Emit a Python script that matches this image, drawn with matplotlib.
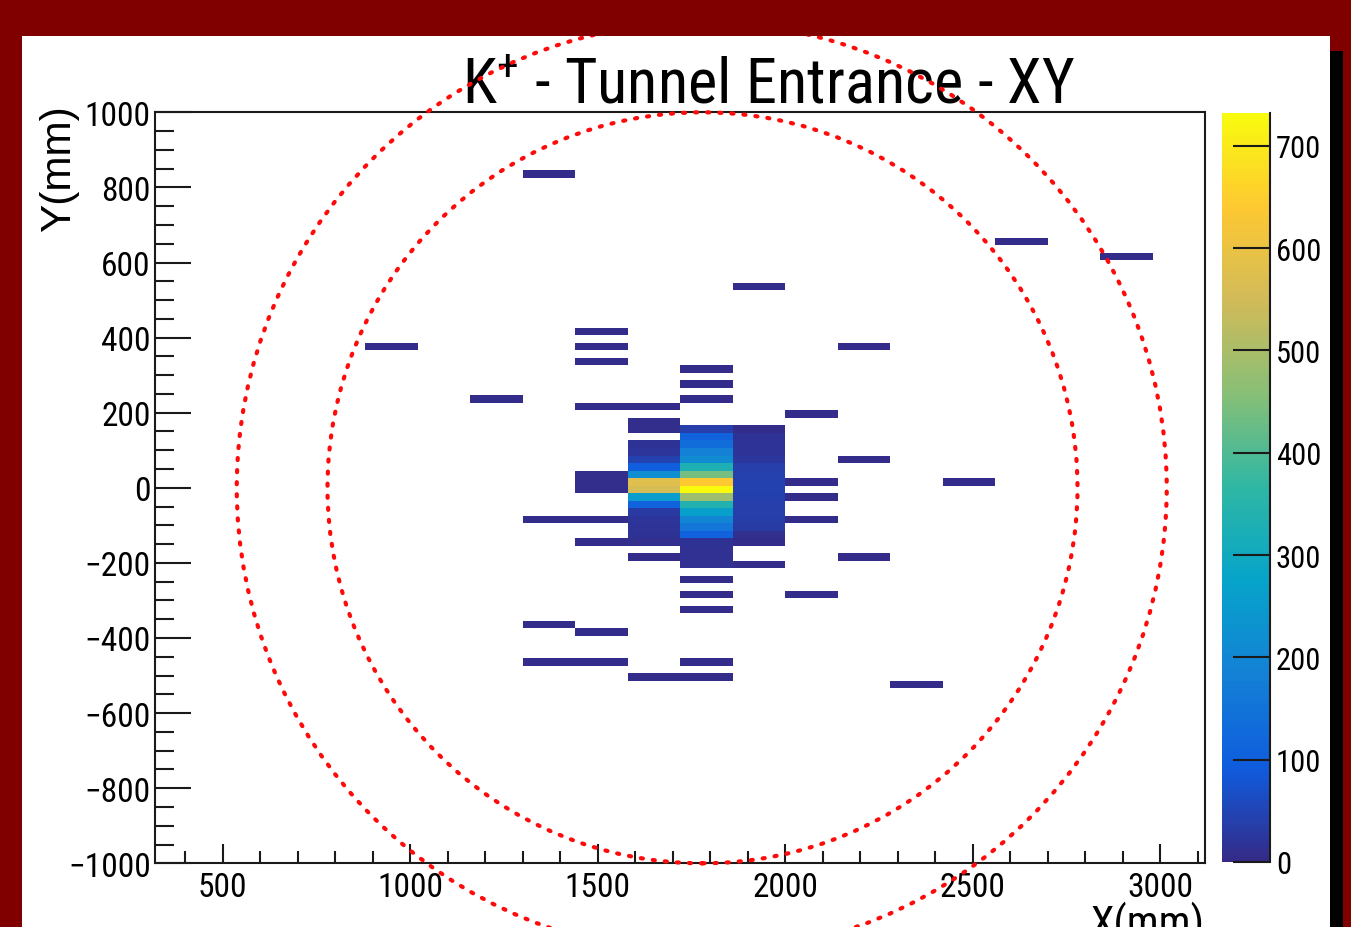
import numpy as np
import matplotlib
matplotlib.use("Agg")
import matplotlib.pyplot as plt
from matplotlib import font_manager
from matplotlib.colors import LinearSegmentedColormap
from matplotlib.patches import Rectangle, Circle
from matplotlib.ticker import MultipleLocator, FixedLocator
from matplotlib.lines import Line2D

# ------------------------------------------------------------------ data
X_EDGES = np.arange(320, 3121, 140)          # 20 x-bins of 140 mm
Y_EDGES = np.arange(-994, 1007, 20)          # 100 y-bins of 20 mm

# dense core of the beam spot (bin centres)
core_y = [176, 156, 136, 116, 96, 76, 56, 36, 16, -4, -24, -44, -64, -84, -104, -124, -144]
core_x = [1650, 1790, 1930]
counts_1650 = [8, 8, 0, 15, 22, 45, 100, 220, 575, 560, 255, 110, 30, 22, 18, 15, 10]
counts_1790 = [0, 40, 110, 135, 185, 210, 330, 440, 640, 730, 485, 340, 265, 200, 160, 110, 15]
counts_1930 = [0, 5, 15, 18, 20, 25, 38, 42, 45, 45, 42, 40, 38, 35, 32, 10, 5]

# isolated low-count cells (bin centres)
sparse_x = [1370, 2630, 2910, 1930, 1510, 1510, 1510, 950, 2210,
            1790, 1790, 1790, 1230, 1510, 1650, 2070, 2210, 2490,
            1510, 1510, 1510, 2070, 2070, 1370, 1510, 2070, 1510,
            1650, 2210, 1930, 1790, 1790, 1790, 1790, 1790, 1790,
            2070, 1370, 1510, 1370, 1510, 1790, 1650, 1790, 2350]
sparse_y = [836, 656, 616, 536, 416, 376, 336, 376, 376,
            316, 276, 236, 236, 216, 216, 196, 76, 16,
            36, 16, -4, 16, -24, -84, -84, -84, -144,
            -184, -184, -204, -164, -184, -204, -244, -284, -324,
            -284, -364, -384, -464, -464, -464, -504, -504, -524]
sparse_n = [3, 3, 3, 3, 3, 3, 3, 3, 3,
            3, 3, 3, 3, 3, 3, 3, 3, 3,
            8, 8, 8, 3, 3, 3, 3, 3, 3,
            3, 3, 3, 12, 12, 12, 3, 3, 3,
            3, 3, 3, 3, 3, 3, 3, 3, 3]

Z_MAX = 732
CBAR_TICKS = [0, 100, 200, 300, 400, 500, 600, 700]
X_TICKS = [500, 1000, 1500, 2000, 2500, 3000]
Y_TICKS = [-1000, -800, -600, -400, -200, 0, 200, 400, 600, 800, 1000]

# detector outlines (centre x, centre y, radius) in mm
circle_cx = [1780, 1778]
circle_cy = [0, 0]
circle_r = [1000, 1240]

# ------------------------------------------------------------------ fonts
avail = {f.name for f in font_manager.fontManager.ttflist}
narrow = next((f for f in ['Liberation Sans Narrow', 'Arial Narrow', 'Roboto Condensed',
                           'Liberation Sans'] if f in avail), 'DejaVu Sans')
regular = 'Liberation Sans' if 'Liberation Sans' in avail else 'DejaVu Sans'
plt.rcParams['font.family'] = [narrow, 'DejaVu Sans']
plt.rcParams['mathtext.fontset'] = 'custom'
plt.rcParams['mathtext.rm'] = narrow
plt.rcParams['mathtext.it'] = narrow
plt.rcParams['mathtext.bf'] = narrow

# ROOT kBird palette
stops = np.linspace(0, 1, 9)
red = [0.2082, 0.0592, 0.0780, 0.0232, 0.1802, 0.5301, 0.8186, 0.9956, 0.9764]
green = [0.1664, 0.3599, 0.5041, 0.6419, 0.7178, 0.7492, 0.7328, 0.7862, 0.9832]
blue = [0.5293, 0.8684, 0.8385, 0.7914, 0.6425, 0.4662, 0.3499, 0.1968, 0.0539]
bird = LinearSegmentedColormap.from_list('bird', list(zip(stops, zip(red, green, blue))))

# ------------------------------------------------------------------ build histogram
xs = list(sparse_x)
ys = list(sparse_y)
ws = list(sparse_n)
for cx, col in zip(core_x, [counts_1650, counts_1790, counts_1930]):
    xs += [cx] * len(core_y)
    ys += list(core_y)
    ws += list(col)
H, _, _ = np.histogram2d(xs, ys, bins=[X_EDGES, Y_EDGES], weights=ws)
Hm = np.ma.masked_equal(H.T, 0)

# ------------------------------------------------------------------ figure
W, Hpx = 1351, 928
fig = plt.figure(figsize=(W / 100, Hpx / 100), dpi=100)
fig.patch.set_facecolor('#800000')

panel = Rectangle((22 / W, 0), (1330 - 22) / W, (928 - 37) / Hpx,
                  transform=fig.transFigure, fc='white', ec='none', zorder=-5)
fig.add_artist(panel)
fig.add_artist(Rectangle((1330 / W, 0), 13 / W, (928 - 52) / Hpx,
                         transform=fig.transFigure, fc='black', ec='none', zorder=-5))


def fx(px):
    return px / W


def fy(py):
    return 1 - py / Hpx


ax = fig.add_axes([fx(155), fy(864.3), fx(1205) - fx(155), fy(113.3) - fy(864.3)])
mesh = ax.pcolormesh(X_EDGES, Y_EDGES, Hm, cmap=bird, vmin=0, vmax=Z_MAX)
ax.set_xlim(X_EDGES[0], X_EDGES[-1])
ax.set_ylim(-1000, 1000)

ax.xaxis.set_major_locator(FixedLocator(X_TICKS))
ax.yaxis.set_major_locator(FixedLocator(Y_TICKS))
ax.xaxis.set_minor_locator(MultipleLocator(100))
ax.yaxis.set_minor_locator(MultipleLocator(50))
ax.tick_params(which='both', direction='in', top=False, right=False, color='#1a1a1a', width=1.5)
ax.tick_params(axis='x', which='major', length=14, labelsize=24, pad=5.3)
ax.tick_params(axis='x', which='minor', length=8.6)
ax.tick_params(axis='y', which='major', length=26, labelsize=24, pad=3)
ax.tick_params(axis='y', which='minor', length=14)
for s in ax.spines.values():
    s.set_linewidth(1.5)
    s.set_color('#1a1a1a')

# colour bar
cax = fig.add_axes([fx(1222), fy(863), fx(1270) - fx(1222), fy(114) - fy(863)])
cb = fig.colorbar(mesh, cax=cax, ticks=CBAR_TICKS)
cb.outline.set_visible(False)
cax.tick_params(direction='in', length=27, width=1.5, labelsize=22, pad=4.3,
                color='#1a1a1a', right=True, left=False)
cax.tick_params(which='minor', length=0)
cax.add_line(Line2D([1, 1], [0, 1], transform=cax.transAxes, color='#1a1a1a',
                    lw=1.5, clip_on=False))

# texts
fig.text(fx(769), fy(103), r"$\mathrm{K}^{+}$ - Tunnel Entrance - XY",
         ha='center', va='baseline', fontsize=45, color='black')
fig.text(fx(59), fy(105), 'Y(mm)', rotation=90, ha='center', va='top',
         fontsize=30.5, family=[regular, 'DejaVu Sans'])
fig.text(fx(1205), fy(902), 'X(mm)', ha='right', va='top', fontsize=30.5)

# red dotted circles
for cx, cy, r in zip(circle_cx, circle_cy, circle_r):
    c = Circle((cx, cy), r, transform=ax.transData, fill=False, ec='#ff0a0a',
               lw=3.0, linestyle=(0, (0.5, 2.4)), capstyle='round', zorder=10)
    fig.add_artist(c)
    c.set_clip_path(panel)

fig.savefig('out.png', dpi=100, facecolor=fig.get_facecolor())
